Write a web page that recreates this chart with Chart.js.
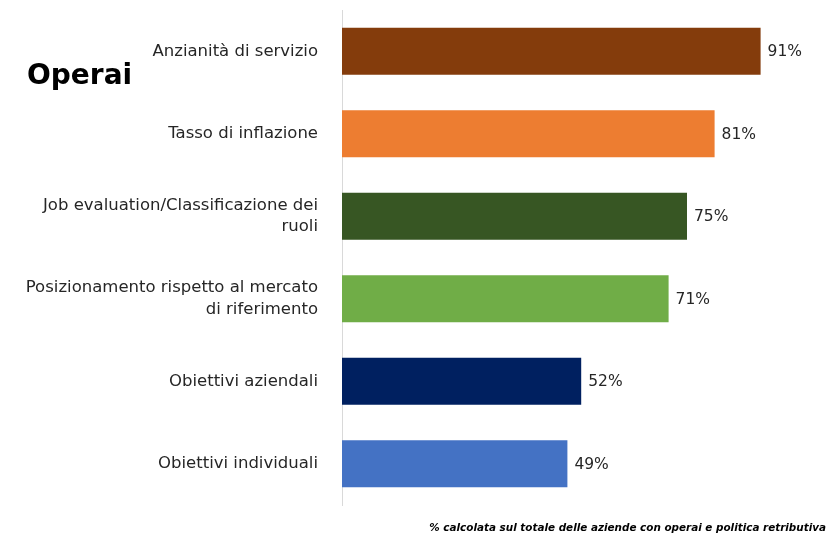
<!DOCTYPE html>
<html>
<head>
<meta charset="utf-8">
<script src="https://cdn.jsdelivr.net/npm/chart.js@4"></script>
<style>
  html, body { margin: 0; padding: 0; background: #fff; }
  #wrap { position: relative; width: 830px; height: 536px; }
  canvas { display: block; }
  #title { position: absolute; left: 27px; top: 58px; font: bold 28px "DejaVu Sans", sans-serif; color: #000; }
  #note { position: absolute; right: 4px; top: 521px; font: italic bold 10.4px "DejaVu Sans", sans-serif; color: #000; }
</style>
</head>
<body>
<div id="wrap">
  <canvas id="c" width="830" height="536"></canvas>
  <div id="title">Operai</div>
  <div id="note">% calcolata sul totale delle aziende con operai e politica retributiva</div>
</div>
<script>
const categories = [
  "Anzianità di servizio",
  "Tasso di inflazione",
  ["Job evaluation/Classificazione dei", "ruoli"],
  ["Posizionamento rispetto al mercato", "di riferimento"],
  "Obiettivi aziendali",
  "Obiettivi individuali"
];
const values = [91, 81, 75, 71, 52, 49];
const barColors = ["#843C0C", "#ED7D31", "#375623", "#70AD47", "#002060", "#4472C4"];

const FONT = "'DejaVu Sans', sans-serif";

const valueLabels = {
  id: 'valueLabels',
  afterDatasetsDraw(chart) {
    const ctx = chart.ctx;
    const meta = chart.getDatasetMeta(0);
    ctx.save();
    ctx.font = "15.5px " + FONT;
    ctx.fillStyle = "#262626";
    ctx.textAlign = "left";
    ctx.textBaseline = "middle";
    meta.data.forEach((bar, i) => {
      ctx.fillText(values[i] + "%", bar.x + 7, bar.y + 1);
    });
    ctx.restore();
  }
};

new Chart(document.getElementById('c'), {
  type: 'bar',
  data: {
    labels: categories,
    datasets: [{
      data: values,
      backgroundColor: barColors,
      borderWidth: 0,
      barPercentage: 0.57,
      categoryPercentage: 1
    }]
  },
  options: {
    indexAxis: 'y',
    responsive: false,
    animation: false,
    layout: { padding: { top: 10, bottom: 31, left: 0, right: 28 } },
    plugins: { legend: { display: false }, tooltip: { enabled: false } },
    scales: {
      x: { display: false, min: 0, max: 100 },
      y: {
        grid: { display: false },
        border: { display: true, color: '#d9d9d9', width: 1 },
        ticks: {
          color: '#262626',
          font: { family: FONT, size: 16.5, lineHeight: 1.3 },
          padding: 16
        },
        afterFit(scale) {
          scale.width = 342;
          scale.paddingTop = 0;
          scale.paddingBottom = 0;
        }
      }
    }
  },
  plugins: [valueLabels]
});
</script>
</body>
</html>
